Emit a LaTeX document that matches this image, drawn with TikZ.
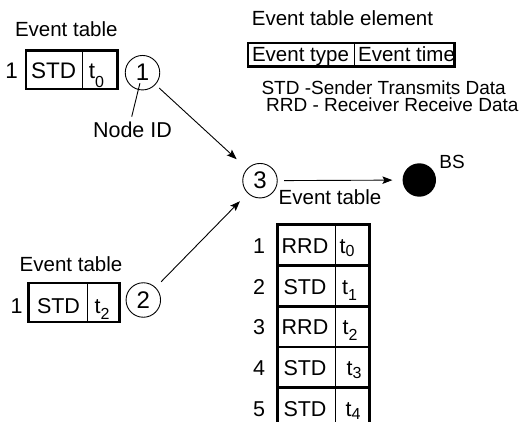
\documentclass[tikz,border=0pt]{standalone}
\usepackage{fontspec}
\setmainfont{Liberation Sans}
\usetikzlibrary{arrows.meta}
\newcommand{\lowsub}[2]{\raisebox{-#1pt}{\fontsize{16}{16}\selectfont #2}}
\begin{document}
\begin{tikzpicture}[x=1pt,y=-1pt,
  lbl/.style={inner sep=0pt, anchor=base, font=\fontsize{19}{20}\selectfont},
  hdr/.style={inner sep=0pt, anchor=base, font=\fontsize{20.5}{21}\selectfont},
  tbox/.style={draw, line width=2.6pt, inner sep=0pt},
  cell/.style={inner sep=0pt, anchor=base, font=\fontsize{21.5}{22}\selectfont},
  bigcell/.style={inner sep=0pt, anchor=base, font=\fontsize{22.5}{23}\selectfont},
  nid/.style={draw, circle, line width=0.9pt, minimum size=34.5pt, inner sep=0pt, font=\fontsize{24}{24}\selectfont},
  conn/.style={line width=0.9pt, -{Stealth[length=10pt,width=7.5pt,inset=2pt]}},
  div/.style={line width=0.9pt}
]
\useasboundingbox (0,0) rectangle (525,422);

% ---------- top-left event table (node 1) ----------
\node[hdr] (et1) at (66.3,36.7) {Event table};
\node[tbox, minimum width=91.7pt, minimum height=38.4pt] (box1) at (71.7,70) {};
\draw[div] (82.3,50.8) -- (82.3,89.2);
\node[bigcell] (n1a) at (11.7,78.3) {1};
\node[bigcell] (s1) at (53.5,78.3) {STD};
\node[bigcell] (t1) at (96.5,78.3) {t\lowsub{9}{0}};

% ---------- bottom-left event table (node 2) ----------
\node[hdr] (et2) at (71,271.7) {Event table};
\node[tbox, minimum width=91pt, minimum height=38.6pt] (box2) at (73.7,302.5) {};
\draw[div] (87.7,283.2) -- (87.7,321.8);
\node[cell] (n2a) at (16.7,313.5) {1};
\node[cell] (s2) at (58.5,313.5) {STD};
\node[cell] (t2) at (102,313.5) {t\lowsub{6}{2}};

% ---------- element legend ----------
\node[hdr] (ete) at (342.5,26) {Event table element};
\node[tbox, minimum width=206.3pt, minimum height=23.6pt] (elem) at (351.3,55) {};
\draw[div] (354.3,43.2) -- (354.3,66.8);
\node[hdr] (etype) at (300.5,62) {Event type};
\node[hdr] (etime) at (406.5,62) {Event time};
\node[lbl] (leg1) at (383.7,94.5) {STD -Sender Transmits Data};
\node[lbl] (leg2) at (392.3,111.7) {RRD - Receiver Receive Data};

% ---------- nodes ----------
\node[nid] (c1) at (142.5,72.7) {1};
\node[nid] (c2) at (143.3,300) {2};
\node[nid] (c3) at (260,180.7) {3};
\node[circle, fill=black, minimum size=33.4pt, inner sep=0pt] (bs) at (419.3,180) {};
\node[lbl] (bslbl) at (452,168.3) {BS};
\node[lbl, font=\fontsize{21.5}{22}\selectfont] (nodeid) at (132.5,137.3) {Node ID};
\coordinate (nidtop) at (131.7,116.7);

% ---------- connectors ----------
\draw[div, shorten >=10.9pt] (nidtop) -- (c1.center);
\draw[conn, shorten <=5pt, shorten >=14pt] (c1) -- (c3);
\draw[conn, shorten <=7.8pt, shorten >=11pt] (c2) -- (c3);
\draw[conn, shorten <=6.3pt, shorten >=10pt] (c3) -- (bs);

% ---------- event table of node 3 ----------
\node[hdr] (et3) at (330,205) {Event table};
\node[tbox, minimum width=91.7pt, minimum height=40.7pt] (r1) at (323.4,245.15) {};
\node[tbox, minimum width=91.7pt, minimum height=40.7pt] (r2) at (323.4,285.85) {};
\node[tbox, minimum width=91.7pt, minimum height=40.7pt] (r3) at (323.4,326.55) {};
\node[tbox, minimum width=91.7pt, minimum height=40.7pt] (r4) at (323.4,367.25) {};
\node[tbox, minimum width=91.7pt, minimum height=40.7pt] (r5) at (323.4,407.95) {};
\draw[div] (335,224.8) -- (335,428.3);

\node[cell] (k1) at (259,253.5) {1};
\node[cell] (k2) at (259,294.2) {2};
\node[cell] (k3) at (259,334.9) {3};
\node[cell] (k4) at (259,375.6) {4};
\node[cell] (k5) at (259,416.3) {5};

\node[cell] (a1) at (305,253.5) {RRD};
\node[cell] (a2) at (305,294.2) {STD};
\node[cell] (a3) at (305,334.9) {RRD};
\node[cell] (a4) at (305,375.6) {STD};
\node[cell] (a5) at (305,416.3) {STD};

\node[cell] (b1) at (347,253.5) {t\lowsub{3.5}{0}};
\node[cell] (b2) at (349.5,294.2) {t\lowsub{6}{1}};
\node[cell] (b3) at (350,334.9) {t\lowsub{6}{2}};
\node[cell] (b4) at (354,375.6) {t\lowsub{3}{3}};
\node[cell] (b5) at (353,416.3) {t\lowsub{3}{4}};
\end{tikzpicture}
\end{document}
